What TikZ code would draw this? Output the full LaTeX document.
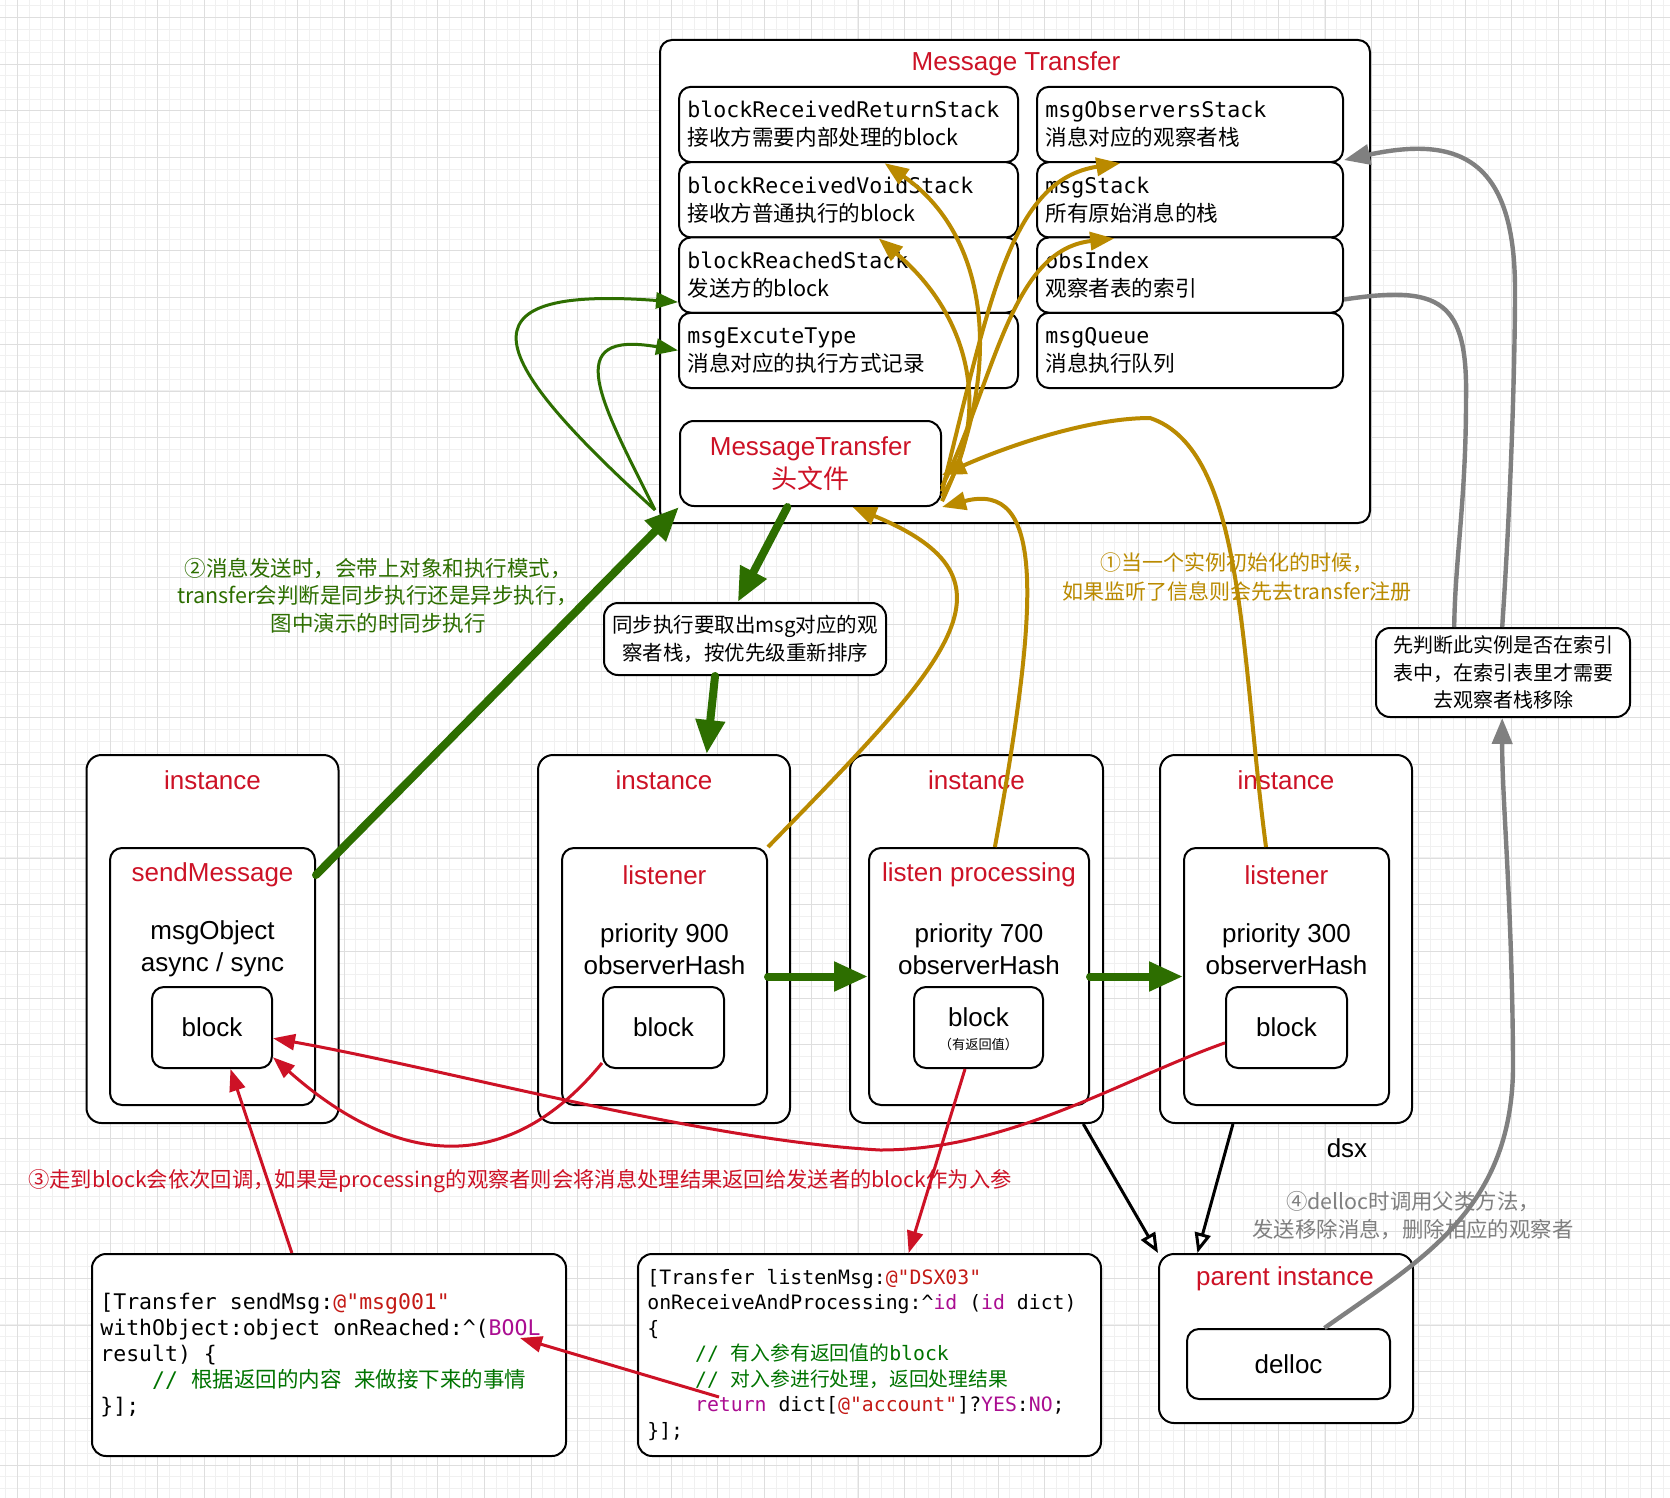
\documentclass[tikz,border=0pt]{standalone}
\usepackage{fontspec}
\setmainfont{Liberation Sans}
\setmonofont{DejaVu Sans Mono}
\newfontfamily\cjk{Noto Sans CJK SC}
\usetikzlibrary{arrows.meta}
\definecolor{trred}{RGB}{205,18,38}
\definecolor{trgreen}{RGB}{45,110,0}
\definecolor{trgold}{RGB}{186,138,0}
\definecolor{trgray}{RGB}{128,128,128}
\definecolor{codestr}{RGB}{196,26,22}
\definecolor{codekw}{RGB}{170,13,145}
\definecolor{codecmt}{RGB}{0,116,0}
\definecolor{gridlt}{RGB}{240,240,240}
\definecolor{griddk}{RGB}{222,222,222}

\begin{document}
\begin{tikzpicture}[x=0.5pt,y=-0.5pt]
    \tikzstyle{outerbox}=[rectangle,draw,line width=1pt,rounded corners=7.5pt,fill=white,inner sep=0pt]
    \tikzstyle{stackbox}=[rectangle,draw,line width=1pt,rounded corners=6pt,fill=white,minimum height=37.65pt,inner sep=0pt]
    \tikzstyle{stacktxt}=[anchor=west,align=left,inner sep=0pt,font=\ttfamily\fontsize{10.8pt}{14pt}\selectfont]
    \tikzstyle{notebox}=[rectangle,draw,line width=1pt,rounded corners=7pt,fill=white,align=center,inner sep=0pt]
    \tikzstyle{lbl}=[text=trred,font=\fontsize{13pt}{16pt}\selectfont]
    \tikzstyle{lbody}=[align=center,font=\fontsize{13pt}{16pt}\selectfont]
    \tikzstyle{blockbox}=[rectangle,draw,line width=1pt,rounded corners=6pt,fill=white,minimum height=40.5pt,inner sep=0pt,font=\fontsize{13pt}{16pt}\selectfont]
    \tikzstyle{gridminor}=[draw=gridlt,line width=0.5pt]
    \tikzstyle{gridmajor}=[draw=griddk,line width=0.5pt]
    \tikzstyle{gthick}=[draw=trgreen,line width=4pt,line cap=round,-{Triangle[length=17pt,width=14pt]}]
    \tikzstyle{gthin}=[draw=trgreen,line width=1.5pt,-{Triangle[length=11pt,width=8pt]}]
    \tikzstyle{gcurve}=[draw=trgold,line width=2pt,-{Triangle[length=12pt,width=9pt]}]
    \tikzstyle{gline}=[draw=trgray,line width=2.2pt]
    \tikzstyle{garrow}=[draw=trgray,line width=2.2pt,-{Triangle[length=13pt,width=10pt]}]
    \tikzstyle{rarrow}=[draw=trred,line width=1.5pt,-{Triangle[length=11pt,width=8pt]}]
    \tikzstyle{inherit}=[draw=black,line width=1.5pt,-{Triangle[open,length=10pt,width=8pt,fill=white]}]

    \useasboundingbox (0,0) rectangle (1670,1498);
    \fill[white] (0,0) rectangle (1670,1498);
    % grid
    \foreach \i in {0,...,142}
        \draw[gridminor] ({5.7+\i*11.675},0) -- ({5.7+\i*11.675},1498);
    \foreach \i in {0,...,128}
        \draw[gridminor] (0,{5.7+\i*11.675}) -- (1670,{5.7+\i*11.675});
    \foreach \i in {0,...,35}
        \draw[gridmajor] ({17.4+\i*46.7},0) -- ({17.4+\i*46.7},1498);
    \foreach \i in {0,...,31}
        \draw[gridmajor] (0,{17.4+\i*46.7}) -- (1670,{17.4+\i*46.7});

    % message transfer
    \node (transfer) at (1015,281.5) [outerbox,rounded corners=6pt,minimum width=355pt,minimum height=241.5pt] {};
    \node (transfert) at (1016,64) [lbl] {Message Transfer};
    \node (stackl1) at (848.5,124.5) [stackbox,minimum width=169.5pt] {};
    \node (stackl2) at (848.5,199.8) [stackbox,minimum width=169.5pt] {};
    \node (stackl3) at (848.5,275.1) [stackbox,minimum width=169.5pt] {};
    \node (stackl4) at (848.5,350.4) [stackbox,minimum width=169.5pt] {};
    \node (stackr1) at (1190,124.5) [stackbox,minimum width=153pt] {};
    \node (stackr2) at (1190,199.8) [stackbox,minimum width=153pt] {};
    \node (stackr3) at (1190,275.1) [stackbox,minimum width=153pt] {};
    \node (stackr4) at (1190,350.4) [stackbox,minimum width=153pt] {};
    \node (stackl1t) at (687,124.5) [stacktxt] {blockReceivedReturnStack\\{\cjk 接收方需要内部处理的block}};
    \node (stackl2t) at (687,199.8) [stacktxt] {blockReceivedVoidStack\\{\cjk 接收方普通执行的block}};
    \node (stackl3t) at (687,275.1) [stacktxt] {blockReachedStack\\{\cjk 发送方的block}};
    \node (stackl4t) at (687,350.4) [stacktxt] {msgExcuteType\\{\cjk 消息对应的执行方式记录}};
    \node (stackr1t) at (1045,124.5) [stacktxt] {msgObserversStack\\{\cjk 消息对应的观察者栈}};
    \node (stackr2t) at (1045,199.8) [stacktxt] {msgStack\\{\cjk 所有原始消息的栈}};
    \node (stackr3t) at (1045,275.1) [stacktxt] {obsIndex\\{\cjk 观察者表的索引}};
    \node (stackr4t) at (1045,350.4) [stacktxt] {msgQueue\\{\cjk 消息执行队列}};
    \node (header) at (810.5,463.5) [notebox,minimum width=130.5pt,minimum height=42.5pt,text=trred,font=\fontsize{13pt}{16.5pt}\selectfont] {MessageTransfer\\{\cjk 头文件}};

    % notes
    \node (sendnote) at (378,595.5) [align=center,text=trgreen,font=\cjk\fontsize{10.75pt}{13.75pt}\selectfont] {②消息发送时，会带上对象和执行模式，\\transfer会判断是同步执行还是异步执行，\\图中演示的时同步执行};
    \node (syncnote) at (745,639) [notebox,minimum width=141pt,minimum height=36pt,font=\cjk\fontsize{10.25pt}{14pt}\selectfont] {同步执行要取出msg对应的观\\察者栈，按优先级重新排序};
    \node (regnote) at (1237,577.5) [align=center,text=trgold,font=\cjk\fontsize{10.5pt}{14.5pt}\selectfont] {①当一个实例初始化的时候，\\如果监听了信息则会先去transfer注册};
    \node (removenote) at (1503,672.5) [notebox,minimum width=127pt,minimum height=44.5pt,font=\cjk\fontsize{10pt}{13.75pt}\selectfont] {先判断此实例是否在索引\\表中，在索引表里才需要\\去观察者栈移除};

    % instances
    \node (inst1) at (212.5,939) [outerbox,minimum width=126pt,minimum height=184pt] {};
    \node (inst2) at (664,939) [outerbox,minimum width=126pt,minimum height=184pt] {};
    \node (inst3) at (976.5,939) [outerbox,minimum width=126.5pt,minimum height=184pt] {};
    \node (inst4) at (1286,939) [outerbox,minimum width=126pt,minimum height=184pt] {};
    \node (inst1t) at (212.5,780) [lbl] {instance};
    \node (inst2t) at (664,780) [lbl] {instance};
    \node (inst3t) at (976.5,780) [lbl] {instance};
    \node (inst4t) at (1286,780) [lbl] {instance};
    \node (lis1) at (212.5,976.5) [outerbox,rounded corners=6pt,minimum width=102.5pt,minimum height=128.5pt] {};
    \node (lis2) at (664.5,976.5) [outerbox,rounded corners=6pt,minimum width=102.5pt,minimum height=128.5pt] {};
    \node (lis3) at (979,976.5) [outerbox,rounded corners=6pt,minimum width=110pt,minimum height=128.5pt] {};
    \node (lis4) at (1286.5,976.5) [outerbox,rounded corners=6pt,minimum width=102.5pt,minimum height=128.5pt] {};
    \node (lis1t) at (212.5,875) [lbl] {sendMessage};
    \node (lis2t) at (664.5,875) [lbl] {listener};
    \node (lis3t) at (979,875) [lbl] {listen processing};
    \node (lis4t) at (1286.5,875) [lbl] {listener};
    \node (lis1b) at (212.5,949) [lbody] {msgObject\\async / sync};
    \node (lis2b) at (664.5,949) [lbody] {priority 900\\observerHash};
    \node (lis3b) at (979,949) [lbody] {priority 700\\observerHash};
    \node (lis4b) at (1286.5,949) [lbody] {priority 300\\observerHash};
    \node (blk1) at (212,1027.5) [blockbox,minimum width=60pt] {block};
    \node (blk2) at (663.5,1027.5) [blockbox,minimum width=60.5pt] {block};
    \node (blk3) at (978.5,1027.5) [blockbox,minimum width=64.5pt] {};
    \node (blk4) at (1286.5,1027.5) [blockbox,minimum width=60.5pt] {block};
    \node (blk3t) at (978.5,1017) [lbody] {block};
    \node (blk3n) at (978.5,1044) [font=\cjk\fontsize{6.6pt}{8pt}\selectfont] {（有返回值）};
    \node (dsx) at (1347,1148) [lbody] {dsx};

    % code
    \node (code1) at (329,1355) [outerbox,rounded corners=7pt,minimum width=237pt,minimum height=101pt] {};
    \node (code2) at (869.5,1355) [outerbox,rounded corners=7pt,minimum width=231.5pt,minimum height=101pt] {};
    \node (code1t) at (100,1355) [anchor=west,align=left,inner sep=0pt,font=\ttfamily\fontsize{10.75pt}{12.9pt}\selectfont] {[Transfer sendMsg:\textcolor{codestr}{@"msg001"}\\
withObject:object onReached:\textasciicircum(\textcolor{codekw}{BOOL}\\
result) \{\\
\phantom{xxxx}\textcolor{codecmt}{// {\cjk 根据返回的内容}\ {\cjk 来做接下来的事情}}\\
\}];};
    \node (code2t) at (647,1355) [anchor=west,align=left,inner sep=0pt,font=\ttfamily\fontsize{9.9pt}{12.75pt}\selectfont] {[Transfer listenMsg:\textcolor{codestr}{@"DSX03"}\\
onReceiveAndProcessing:\textasciicircum\textcolor{codekw}{id} (\textcolor{codekw}{id} dict)\\
\{\\
\phantom{xxxx}\textcolor{codecmt}{// {\cjk 有入参有返回值的}block}\\
\phantom{xxxx}\textcolor{codecmt}{// {\cjk 对入参进行处理，返回处理结果}}\\
\phantom{xxxx}\textcolor{codekw}{return} dict[\textcolor{codestr}{@"account"}]?\textcolor{codekw}{YES}:\textcolor{codekw}{NO};\\
\}];};
    \node (cbnote) at (520,1181) [text=trred,font=\cjk\fontsize{10.65pt}{13pt}\selectfont] {③走到block会依次回调，如果是processing的观察者则会将消息处理结果返回给发送者的block作为入参};

    % parent
    \node (parent) at (1286,1338.5) [outerbox,minimum width=127pt,minimum height=84.5pt] {};
    \node (parentt) at (1285,1279) [lbl] {parent instance};
    \node (delloc) at (1288.5,1364) [blockbox,minimum width=101.5pt,minimum height=35pt] {delloc};
    \node (deallocnote) at (1413,1216) [align=center,text=trgray,font=\cjk\fontsize{10.7pt}{14pt}\selectfont] {④delloc时调用父类方法，\\发送移除消息，删除相应的观察者};

    \coordinate (gsrc) at (655,510);
    \coordinate (retsrc) at (719,1397);
    \coordinate (booltip) at (520,1338);

    % green: sending
    \draw [gthick] (lis1.east |- lis1t) -- (header.south west);
    \draw [gthin] (gsrc) .. controls (490,360) and (450,285) .. (stackl3.189.7);
    \draw [gthin] (gsrc) .. controls (600,400) and (560,330) .. (stackl4.west);
    \draw [gthick] (header.242) -- (syncnote.101);
    \draw [gthick] (syncnote.231.3) -- (inst2.77.5);
    \draw [gthick] (lis2.east) -- (lis3.west);
    \draw [gthick] (lis3.east) -- (lis4.west);

    % gold: registering
    \draw [gcurve] (lis2.north east) .. controls (950,660) and (1030,580) .. (header.-46);
    \draw [gcurve] (lis3.83.3) .. controls (1040,600) and (1045,480) .. (header.south east);
    \draw [gcurve] (lis4.99) .. controls (1240,650) and (1245,450) .. (1150,418) .. controls (1090,418) and (1010,445) .. (header.-5.9);
    \draw [gcurve] (header.-16) .. controls (1000,380) and (995,240) .. (stackl1.-47.4);
    \draw [gcurve] (header.-14) .. controls (990,420) and (975,320) .. (stackl2.-52);
    \draw [gcurve] (header.-12) .. controls (990,300) and (1010,180) .. (stackr1.-151);
    \draw [gcurve] (header.-10) .. controls (995,380) and (1010,250) .. (stackr2.-153.3);

    % gray: removing
    \draw [gline] (stackr3.-9.6) .. controls (1440,285) and (1468,300) .. (1466,400) .. controls (1466,500) and (1455,560) .. (removenote.137.2);
    \draw [garrow] (removenote.91) .. controls (1512,480) and (1515,350) .. (1515,290) .. controls (1515,160) and (1460,135) .. (stackr1.-13);
    \draw [garrow] (delloc.45.4) .. controls (1420,1260) and (1515,1210) .. (1513,1060) .. controls (1512,900) and (1502,800) .. (removenote.-91);

    % red: callbacks
    \draw [rarrow] (blk2.-150) .. controls (510,1175) and (400,1170) .. (blk1.-26.6);
    \draw [rarrow] (blk4.194.4) .. controls (1120,1080) and (1010,1150) .. (880,1150) .. controls (700,1140) and (450,1070) .. (blk1.-10);
    \draw [rarrow] (code1.110.1) -- (blk1.-66);
    \draw [rarrow] (blk3.-108.4) -- (code2.69.6);
    \draw [rarrow] (retsrc) -- (booltip);

    % inheritance
    \draw [inherit] (inst3.-60) -- (parent.north west);
    \draw [inherit] (inst4.-106) -- (parent.136.5);
\end{tikzpicture}
\end{document}
